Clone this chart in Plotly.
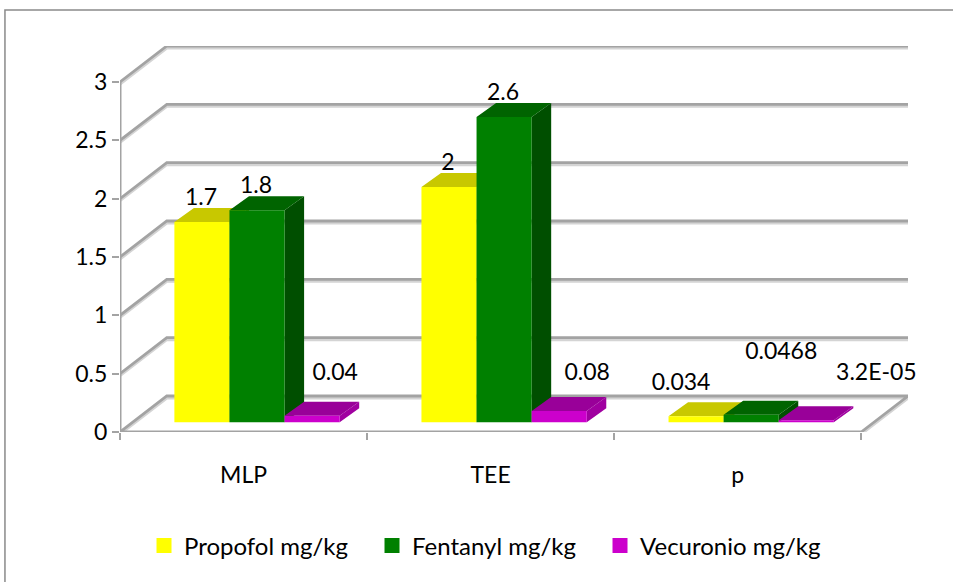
import plotly.graph_objects as go

# ---- data ----
categories = ["MLP", "TEE", "p"]
propofol = [1.7, 2, 0.034]
fentanyl = [1.8, 2.6, 0.0468]
vecuronio = [0.04, 0.08, 0.000032]
labels_propofol = ["1.7", "2", "0.034"]
labels_fentanyl = ["1.8", "2.6", "0.0468"]
labels_vecuronio = ["0.04", "0.08", "3.2E-05"]
y_ticks = [0, 0.5, 1, 1.5, 2, 2.5, 3]
y_tick_text = ["0", "0.5", "1", "1.5", "2", "2.5", "3"]

# ---- layout geometry (pixels) ----
W, H = 953, 582
L, R_PX, T, B = 120, 907.7, 46, 432
PX_X = (860 - 120) / 3
PX_Y = 116.67
FONT = "Lato"
FS = 23
TXT = "#000000"


def dx(px):
    return px / PX_X


def dy(px):
    return px / PX_Y


X0 = -0.5
X1 = 2.5
BACK_X, BACK_Y = dx(46.7), dy(36)
DEPTH_X, DEPTH_Y = dx(19.5), dy(14)
GAP_X, GAP_Y = dx(9.6), dy(11.7)
BAR_W = dx(55)
BAR_LIFT = dy(2)

fig = go.Figure()


def line(xs, ys, color, width):
    fig.add_trace(go.Scatter(x=xs, y=ys, mode="lines", cliponaxis=False, showlegend=False,
                             hoverinfo="skip", line=dict(color=color, width=width)))


# walls: soft shadow, then grid lines
for color, width, s in (("#D4D4D4", 3, dy(-2)), ("#A3A3A3", 2.8, 0)):
    for v in y_ticks:
        xs = [X0, X0 + BACK_X, X1 + BACK_X]
        ys = [v + s, v + BACK_Y + s, v + BACK_Y + s]
        if v == 0:
            xs += [X1, X0]
            ys += [0 + s, 0 + s]
        line(xs, ys, color, width)
line([X0, X0], [0, y_ticks[-1]], "#A3A3A3", 3)


def faces(values, slot):
    front_x, front_y, top_x, top_y, side_x, side_y = [], [], [], [], [], []
    for i, v in enumerate(values):
        x0 = i - 0.5 + GAP_X + dx(44.7) + slot * BAR_W
        x1 = x0 + BAR_W
        b = GAP_Y - BAR_LIFT
        t = GAP_Y + v
        front_x += [x0, x1, x1, x0, x0, None]
        front_y += [b, b, t, t, b, None]
        top_x += [x0, x1, x1 + DEPTH_X, x0 + DEPTH_X, x0, None]
        top_y += [t, t, t + DEPTH_Y, t + DEPTH_Y, t, None]
        side_x += [x1, x1 + DEPTH_X, x1 + DEPTH_X, x1, x1, None]
        side_y += [b, b + DEPTH_Y, t + DEPTH_Y, t, b, None]
    return (front_x, front_y), (top_x, top_y), (side_x, side_y)


def solid(xy, color):
    fig.add_trace(go.Scatter(x=xy[0], y=xy[1], mode="lines", fill="toself", fillcolor=color,
                             line=dict(width=0, color=color), showlegend=False, hoverinfo="skip",
                             cliponaxis=False))


series = [
    ("Propofol mg/kg", propofol, "#FFFF00", "#C8C800", "#A8A800"),
    ("Fentanyl mg/kg", fentanyl, "#008000", "#006400", "#004F00"),
    ("Vecuronio mg/kg", vecuronio, "#CC00CC", "#990099", "#A000A0"),
]
for slot, (name, vals, c_front, c_top, c_side) in enumerate(series):
    f, t, s = faces(vals, slot)
    solid(s, c_side)
    solid(t, c_top)
    solid(f, c_front)

# data labels (hand-placed offsets, pixels from the front-top centre of each bar)
label_offsets = [
    [(-1, -23), (-1, -23), (-15, -32)],
    [(-1, -23), (-1, -23), (30, -62)],
    [(23, -41), (28, -37), (70, -46)],
]
label_sets = [labels_propofol, labels_fentanyl, labels_vecuronio]
for slot, (name, vals, *_rest) in enumerate(series):
    xs, ys = [], []
    for i, v in enumerate(vals):
        ox, oy = label_offsets[slot][i]
        xs.append(i - 0.5 + GAP_X + dx(44.7) + (slot + 0.5) * BAR_W + dx(ox))
        ys.append(GAP_Y + v - dy(oy))
    fig.add_trace(go.Scatter(x=xs, y=ys, mode="text", text=label_sets[slot], textposition="middle center",
                             textfont=dict(family=FONT, size=FS, color=TXT), showlegend=False,
                             hoverinfo="skip", cliponaxis=False))

# legend entries
for name, vals, c_front, *_r in series:
    fig.add_trace(go.Scatter(x=[None], y=[None], mode="markers", name=name,
                             marker=dict(symbol="square", size=15, color=c_front)))

pw, ph = R_PX - L, B - T


def paper_x(px):
    return (px - L) / pw


def paper_y(py):
    return (B - py) / ph


fig.update_layout(
    width=W, height=H, autosize=False,
    margin=dict(l=L, r=W - R_PX, t=T, b=H - B, pad=0),
    paper_bgcolor="white", plot_bgcolor="white",
    showlegend=True,
    legend=dict(orientation="h", x=paper_x(144), y=paper_y(546), xanchor="left", yanchor="middle",
                font=dict(family=FONT, size=24, color=TXT), entrywidth=183, entrywidthmode="pixels",
                itemclick=False, itemdoubleclick=False, bgcolor="rgba(0,0,0,0)"),
    xaxis=dict(range=[X0, X1 + BACK_X], tickmode="array", tickvals=[0, 1, 2], ticktext=categories,
               showgrid=False, zeroline=False, showline=False, ticks="outside", ticklen=22,
               tickcolor="rgba(0,0,0,0)", tickfont=dict(family=FONT, size=FS, color=TXT),
               minor=dict(tick0=-0.5, dtick=1, ticks="outside", ticklen=7, tickcolor="#A3A3A3", tickwidth=2, showgrid=False)),
    yaxis=dict(range=[0, ph / PX_Y], tickmode="array", tickvals=y_ticks, ticktext=y_tick_text,
               showgrid=False, zeroline=False, showline=False, ticks="outside", ticklen=7,
               tickcolor="#A3A3A3", tickwidth=2, tickfont=dict(family=FONT, size=FS, color=TXT)),
    shapes=[dict(type="path", xref="paper", yref="paper",
                 path=f"M {paper_x(5)} {paper_y(H)} L {paper_x(5)} {paper_y(10)} L {paper_x(W)} {paper_y(10)}",
                 line=dict(color="#8A8A8A", width=1.5))],
)

fig.write_html("out.html", config={"displayModeBar": False},
               post_script="document.body.style.margin='0';document.documentElement.style.overflow='hidden';")
